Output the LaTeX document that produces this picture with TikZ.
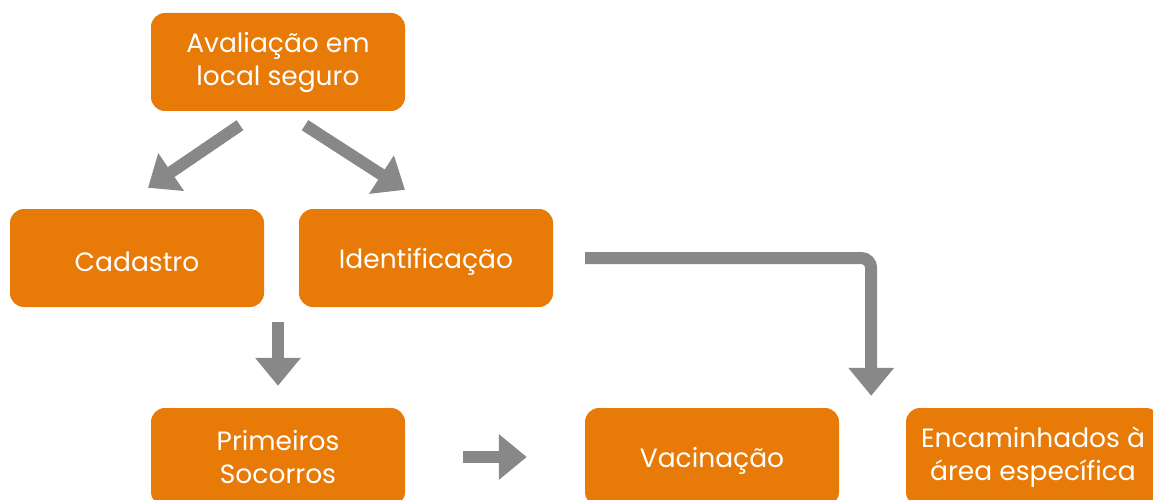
\documentclass[tikz,border=0pt]{standalone}
\usepackage{fontspec}
\setmainfont{Poppins}
\usetikzlibrary{arrows.meta,positioning}
\definecolor{laranja}{HTML}{E87A07}
\definecolor{cinza}{HTML}{888888}
\tikzset{
  caixa/.style={fill=laranja, rounded corners=14pt, minimum width=254pt, minimum height=98pt,
    text=white, align=center, font=\fontsize{26.5}{33}\selectfont, inner sep=0pt,
    execute at begin node={\rule{0pt}{28pt}}},
  seta/.style={draw=cinza, line width=12pt, -{Triangle[width=44pt,length=28pt]}}
}
\begin{document}
\begin{tikzpicture}[x=1pt,y=-1pt]
\useasboundingbox (0,0) rectangle (1153,500);
\clip (0,0) rectangle (1153,500);
\node[caixa] (aval) at (278,62) {Avaliação em\\local seguro};
\node[caixa] (cad) at (137,258) {Cadastro};
\node[caixa] (ident) at (426,258) {Identificação};
\node[caixa] (socorro) at (278,457) {Primeiros\\Socorros};
\node[caixa] (vac) at (712,457) {Vacinação};
\node[caixa] (encam) at (1033,457) {Encaminhados à\\área específica};
\draw[seta] ([xshift=-38pt,yshift=-14pt]aval.south) -- ([xshift=11pt,yshift=21pt]cad.north);
\draw[seta] ([xshift=27pt,yshift=-14pt]aval.south) -- ([xshift=-21pt,yshift=19pt]ident.north);
\draw[seta] ([yshift=86pt]socorro.north) -- ([yshift=22pt]socorro.north);
\draw[seta,shorten <=58pt,shorten >=58pt] (socorro.east) -- (vac.west);
\draw[seta,rounded corners=10pt] ([xshift=32pt]ident.east) -| ([xshift=32pt,yshift=12pt]vac.north east);
\end{tikzpicture}
\end{document}
